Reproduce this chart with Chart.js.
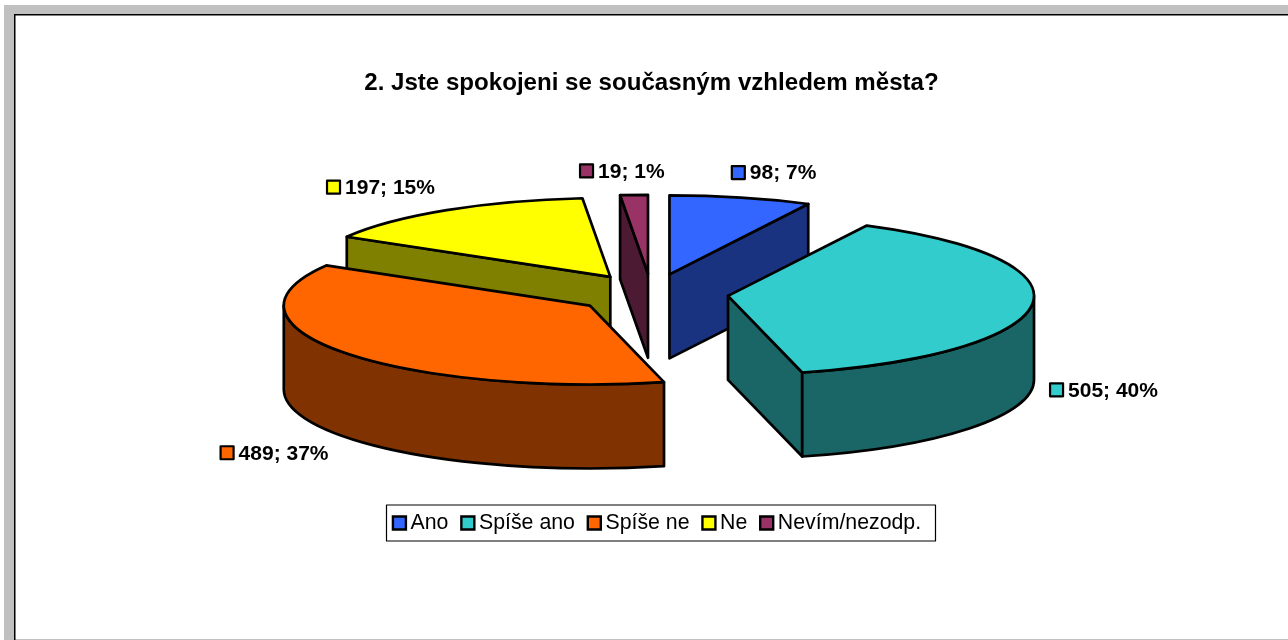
<!DOCTYPE html>
<html>
<head>
<meta charset="utf-8">
<style>html,body{margin:0;padding:0;background:#fff;overflow:hidden}canvas{display:block}</style>
<script src="https://cdn.jsdelivr.net/npm/chart.js@4"></script>
</head>
<body>
<canvas id="c" width="1288" height="640"></canvas>
<script>
const titleText = '2. Jste spokojeni se současným vzhledem města?';
const categories = ['Ano', 'Spíše ano', 'Spíše ne', 'Ne', 'Nevím/nezodp.'];
const values = [98, 505, 489, 197, 19];
const percents = [7, 40, 37, 15, 1];
const topColors = ['#3366FF', '#33CCCC', '#FF6600', '#FFFF00', '#993366'];
const wallColors = ['#1A3380', '#1A6666', '#803300', '#808000', '#4D1A33'];

const SQUASH = 0.258, DEPTH = 84, LINE = 2.7, RADIUS = 306;
const FONT = '"Liberation Sans", Arial, sans-serif';
// label placement relative to the rim point of each slice
const labelNudge = [[-10, -25], [17, 85], [-125, 100], [-120.6, -23], [-55, -24]];

function geom(el) {
  const shift = (el.options.offset || 0) / 4;
  const mid = (el.startAngle + el.endAngle) / 2;
  const cx = el.x + Math.cos(mid) * shift;
  const cy = el.y + (Math.sin(mid) * shift) * SQUASH;
  return { cx, cy, r: RADIUS, ry: RADIUS * SQUASH, s: el.startAngle, e: el.endAngle, mid };
}
function rim(g, a, dy) { return [g.cx + g.r * Math.cos(a), g.cy + g.ry * Math.sin(a) + (dy || 0)]; }
function topPath(ctx, g) {
  ctx.beginPath();
  ctx.moveTo(g.cx, g.cy);
  ctx.ellipse(g.cx, g.cy, g.r, g.ry, 0, g.s, g.e);
  ctx.closePath();
}
function paint(ctx, fill) {
  ctx.fillStyle = fill; ctx.fill();
  ctx.lineWidth = LINE; ctx.strokeStyle = '#000'; ctx.lineJoin = 'round'; ctx.stroke();
}
function edgeWall(ctx, g, a, fill) {
  const p = rim(g, a);
  ctx.beginPath();
  ctx.moveTo(g.cx, g.cy); ctx.lineTo(p[0], p[1]);
  ctx.lineTo(p[0], p[1] + DEPTH); ctx.lineTo(g.cx, g.cy + DEPTH);
  ctx.closePath();
  paint(ctx, fill);
}
function rimWall(ctx, g, a0, a1, fill) {
  const p = rim(g, a1);
  ctx.beginPath();
  ctx.ellipse(g.cx, g.cy, g.r, g.ry, 0, a0, a1);
  ctx.lineTo(p[0], p[1] + DEPTH);
  ctx.ellipse(g.cx, g.cy + DEPTH, g.r, g.ry, 0, a1, a0, true);
  ctx.closePath();
  paint(ctx, fill);
}

let saved = [];
const pie3d = {
  id: 'pie3d',
  beforeDraw(chart) {
    const ctx = chart.ctx;
    ctx.save();
    ctx.fillStyle = '#fff'; ctx.fillRect(0, 0, 1288, 640);
    ctx.fillStyle = '#C0C0C0';
    ctx.fillRect(4, 5, 1284, 9); ctx.fillRect(4, 5, 10, 635); ctx.fillRect(14, 639, 1274, 1);
    ctx.fillStyle = '#000';
    ctx.fillRect(14, 14, 1274, 1.5); ctx.fillRect(14, 14, 1.5, 626);
    ctx.restore();
  },
  afterLayout(chart) {
    const lg = chart.legend, o = lg.options.labels;
    const dx = 657 - (lg.left + lg.right) / 2 + 3;
    const dy = 523 - (lg.top + o.padding + o.font.size / 2);
    lg.left += dx; lg.right += dx; lg.top += dy; lg.bottom += dy;
  },
  beforeDatasetsDraw(chart) {
    const ctx = chart.ctx, arcs = chart.getDatasetMeta(0).data;
    const order = arcs.map((el, i) => i).sort((a, b) => geom(arcs[a]).cy - geom(arcs[b]).cy);
    ctx.save();
    order.forEach(i => {
      const g = geom(arcs[i]);
      if (-Math.cos(g.s) > 1e-6) edgeWall(ctx, g, g.s, wallColors[i]);
      if (Math.cos(g.e) > 1e-6) edgeWall(ctx, g, g.e, wallColors[i]);
      // front part of the rim: canvas angles between 0 and PI (mod 2PI)
      const T = Math.PI * 2;
      for (let k = -1; k <= 1; k++) {
        const a0 = Math.max(g.s, k * T), a1 = Math.min(g.e, k * T + Math.PI);
        if (a1 > a0) rimWall(ctx, g, a0, a1, wallColors[i]);
      }
    });
    ctx.restore();
  },
  beforeDatasetDraw(chart) {
    const ctx = chart.ctx, arcs = chart.getDatasetMeta(0).data, el = arcs[0];
    // the arc element widens an offset slice and trims its angle; cancel both so the
    // filled tops share one radius and keep their true angles while they are painted
    saved = arcs.map(a => ({ r: a.outerRadius, s: a.startAngle, e: a.endAngle }));
    arcs.forEach(a => {
      const c = a.endAngle - a.startAngle;
      const fix = 1 - Math.sin(Math.min(Math.PI, c));
      const ro = (a.options.offset / 4) * fix;
      const delta = ro / Math.PI / RADIUS / 2;
      a.outerRadius = RADIUS - ro;
      a.startAngle -= delta; a.endAngle += delta;
    });
    ctx.save();
    ctx.translate(el.x, el.y); ctx.scale(1, SQUASH); ctx.translate(-el.x, -el.y);
  },
  afterDatasetDraw(chart) {
    chart.ctx.restore();
    chart.getDatasetMeta(0).data.forEach((a, i) => {
      a.outerRadius = saved[i].r; a.startAngle = saved[i].s; a.endAngle = saved[i].e;
    });
  },
  afterDatasetsDraw(chart) {
    const ctx = chart.ctx, arcs = chart.getDatasetMeta(0).data;
    ctx.save();
    ctx.lineWidth = LINE; ctx.strokeStyle = '#000'; ctx.lineJoin = 'round';
    arcs.forEach(el => { topPath(ctx, geom(el)); ctx.stroke(); });
    // data labels
    ctx.font = 'bold 21px ' + FONT; ctx.textBaseline = 'middle'; ctx.textAlign = 'left';
    arcs.forEach((el, i) => {
      const g = geom(el), p = rim(g, g.mid);
      const x = p[0] + labelNudge[i][0], y = p[1] + labelNudge[i][1];
      ctx.beginPath(); ctx.rect(x + 1, y - 6.5, 13, 13);
      ctx.fillStyle = topColors[i]; ctx.lineWidth = 2.2; ctx.fill(); ctx.stroke();
      ctx.fillStyle = '#000';
      ctx.fillText(values[i] + '; ' + percents[i] + '%', x + 19, y + 1);
    });
    // legend frame
    ctx.lineWidth = 1.2; ctx.strokeStyle = '#000';
    ctx.strokeRect(386.5, 505, 549, 36);
    ctx.restore();
  }
};

new Chart(document.getElementById('c'), {
  type: 'pie',
  data: {
    labels: categories,
    datasets: [{
      data: values,
      backgroundColor: topColors,
      borderWidth: 0,
      offset: 308,
      radius: RADIUS,
      clip: false
    }]
  },
  plugins: [pie3d],
  options: {
    responsive: false,
    animation: false,
    events: [],
    layout: { padding: { left: 15, right: 0, top: 68.6, bottom: 100 } },
    plugins: {
      tooltip: { enabled: false },
      title: {
        display: true, text: titleText, color: '#000',
        padding: 0,
        font: { family: FONT, size: 24.1, weight: 'bold' }
      },
      legend: {
        display: true, position: 'bottom',
        labels: {
          color: '#000', padding: 18.9, boxWidth: 1, boxHeight: 13, usePointStyle: true,
          font: { family: FONT, size: 21.3 },
          generateLabels(chart) {
            return categories.map((text, i) => ({
              text, fillStyle: topColors[i], strokeStyle: '#000', lineWidth: 2.4,
              pointStyle: 'rect', hidden: false, index: i
            }));
          }
        }
      }
    }
  }
});
</script>
</body>
</html>
